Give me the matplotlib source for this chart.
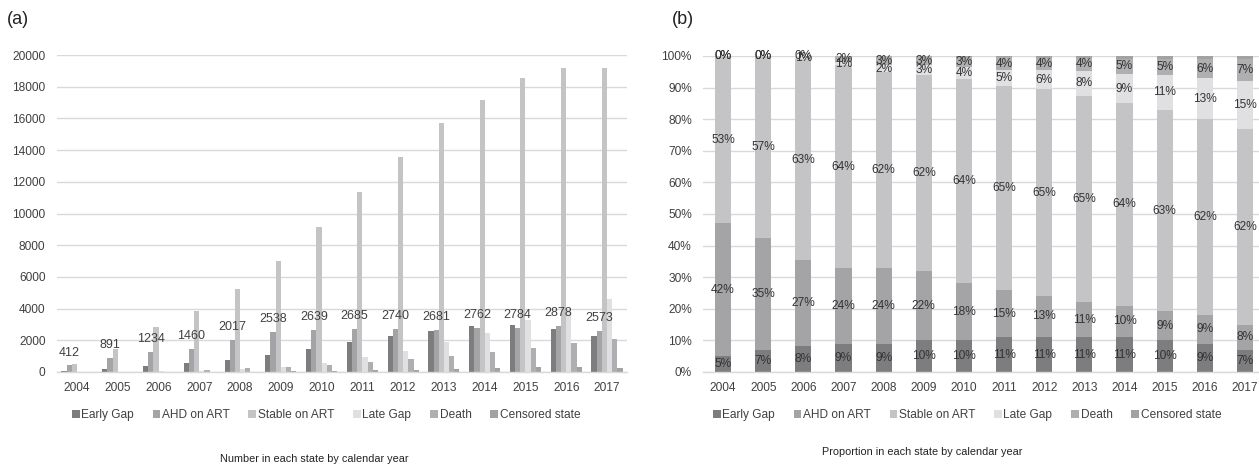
import matplotlib
matplotlib.use("Agg")
import matplotlib.pyplot as plt
import numpy as np

plt.rcParams['font.family'] = ['Liberation Sans', 'DejaVu Sans']

years = [2004, 2005, 2006, 2007, 2008, 2009, 2010, 2011, 2012, 2013, 2014, 2015, 2016, 2017]
series_names = ["Early Gap", "AHD on ART", "Stable on ART", "Late Gap", "Death", "Censored state"]
colors = ["#7d7d7f", "#a4a4a6", "#c4c4c6", "#e0e0e2", "#afafb1", "#a2a2a4"]

# (a) counts
early_n = [50, 170, 350, 540, 750, 1080, 1420, 1870, 2300, 2610, 2880, 2960, 2690, 2290]
ahd_n = [412, 891, 1234, 1460, 2017, 2538, 2639, 2685, 2740, 2681, 2762, 2784, 2878, 2573]
stable_n = [525, 1450, 2830, 3880, 5220, 6980, 9160, 11330, 13540, 15680, 17150, 18560, 19190, 19150]
late_n = [0, 0, 45, 60, 160, 330, 590, 930, 1320, 1880, 2480, 3300, 3900, 4630]
death_n = [0, 0, 15, 120, 230, 290, 440, 610, 790, 990, 1240, 1500, 1830, 2080]
cens_n = [0, 0, 0, 0, 10, 50, 90, 110, 150, 190, 230, 310, 320, 260]

# (b) proportions (%)
early_p = [5, 7, 8, 9, 9, 10, 10, 11, 11, 11, 11, 10, 9, 7]
ahd_p = [42, 35, 27, 24, 24, 22, 18, 15, 13, 11, 10, 9, 9, 8]
stable_p = [53, 57, 63, 64, 62, 62, 64, 65, 65, 65, 64, 63, 62, 62]
late_p = [0, 0, 1, 1, 2, 3, 4, 5, 6, 8, 9, 11, 13, 15]
death_p = [0, 0, 0, 2, 3, 3, 3, 4, 4, 4, 5, 5, 6, 7]
cens_p = [0, 0, 0, 0, 0, 0, 0.3, 0.4, 0.5, 0.6, 0.8, 0.9, 1.0, 1.0]

txt = "#404040"
grid_c = "#d9d9d9"
fs = 8.6

W, H = 1259, 467
fig = plt.figure(figsize=(W / 100, H / 100), dpi=100)

def px_axes(l, r, top, bottom):
    return fig.add_axes([l / W, 1 - bottom / H, (r - l) / W, (bottom - top) / H])

def style(ax):
    for s in ["top", "right", "left"]:
        ax.spines[s].set_visible(False)
    ax.spines["bottom"].set_color(grid_c)
    ax.spines["bottom"].set_linewidth(1.0)
    ax.yaxis.grid(True, color=grid_c, linewidth=1.0)
    ax.set_axisbelow(True)
    ax.tick_params(axis="both", length=0, colors=txt, labelsize=fs)
    ax.tick_params(axis="y", pad=8)
    ax.tick_params(axis="x", pad=7)

x = np.arange(len(years))

# ---------- (a) ----------
axa = px_axes(56.6, 627.4, 55, 372)
style(axa)
counts = [early_n, ahd_n, stable_n, late_n, death_n, cens_n]
bw = 0.127
handles = []
for i, (vals, c, name) in enumerate(zip(counts, colors, series_names)):
    b = axa.bar(x + (i - 2.5) * bw, vals, bw, color=c, label=name, linewidth=0)
    handles.append(b)
for xi, v in zip(x, ahd_n):
    axa.annotate(str(v), (xi - 1.5 * bw, v), xytext=(0, 5), textcoords="offset points",
                 ha="center", va="bottom", fontsize=fs + 0.4, color=txt)
axa.set_xlim(-0.5, len(years) - 0.5)
axa.set_ylim(0, 20000)
axa.set_yticks(range(0, 20001, 2000))
axa.set_xticks(x)
axa.set_xticklabels([str(y) for y in years])

# ---------- (b) ----------
axb = px_axes(703, 1265, 56, 372)
style(axb)
props = np.array([early_p, ahd_p, stable_p, late_p, death_p, cens_p], dtype=float)
norm = props / props.sum(axis=0) * 100
bottom = np.zeros(len(years))
for i, c in enumerate(colors):
    axb.bar(x, norm[i], 0.4, bottom=bottom, color=c, linewidth=0)
    if i < 5:
        for xi, b0, h, lab in zip(x, bottom, norm[i], props[i]):
            axb.text(xi, b0 + h / 2, f"{int(lab)}%", ha="center", va="center",
                     fontsize=fs, color="#333333")
    bottom += norm[i]
axb.set_xlim(-0.5, len(years) - 0.5)
axb.set_ylim(0, 100)
axb.set_yticks(range(0, 101, 10))
axb.set_yticklabels([f"{v}%" for v in range(0, 101, 10)])
axb.set_xticks(x)
axb.set_xticklabels([str(y) for y in years])

# legends
leg_kw = dict(loc="center", ncol=6, frameon=False, fontsize=fs, handlelength=0.65,
              handleheight=0.65, handletextpad=0.15, columnspacing=1.55, labelcolor=txt)
fig.legend(handles, series_names, bbox_to_anchor=(326 / W, 1 - 415 / H), **leg_kw)
fig.legend(handles, series_names, bbox_to_anchor=(967 / W, 1 - 415 / H), **leg_kw)

# panel letters & captions
fig.text(7 / W, 1 - 20 / H, "(a)", fontsize=13, color="#222222", va="center", ha="left")
fig.text(672 / W, 1 - 20 / H, "(b)", fontsize=13, color="#222222", va="center", ha="left")
fig.text(314 / W, 1 - 459 / H, "Number in each state by calendar year", fontsize=7.8,
         color="#222222", ha="center", va="center")
fig.text(922 / W, 1 - 452 / H, "Proportion in each state by calendar year", fontsize=7.8,
         color="#222222", ha="center", va="center")

fig.savefig("out.png", dpi=100)
